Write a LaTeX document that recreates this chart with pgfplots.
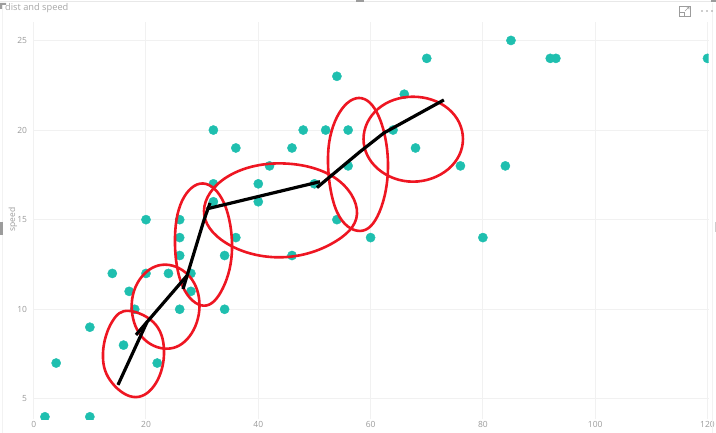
\documentclass[border=0pt]{standalone}
\usepackage{pgfplots}
\pgfplotsset{compat=1.18}
\usepackage{fontspec}
\setmainfont{Open Sans}
\definecolor{teal1}{HTML}{1FBFAF}
\definecolor{gridc}{HTML}{F1F1F1}
\definecolor{txt}{HTML}{9A9A9A}
\definecolor{redc}{HTML}{EE1622}
\definecolor{hand}{HTML}{9C9C9C}
\pgfplotstableread{
dist speed
2 4
10 4
4 7
22 7
16 8
10 9
18 10
26 10
34 10
17 11
28 11
14 12
20 12
24 12
28 12
26 13
34 13
46 13
26 14
36 14
60 14
80 14
20 15
26 15
54 15
32 16
40 16
32 17
40 17
50 17
42 18
56 18
76 18
84 18
36 19
46 19
68 19
32 20
48 20
52 20
56 20
64 20
66 22
54 23
70 24
92 24
93 24
120 24
85 25
}\carsdata
\begin{document}
\begin{tikzpicture}[x=1bp,y=1bp]
\path[use as bounding box] (0,0) rectangle (716,433);
\begin{axis}[
  at={(33.7bp,13.5bp)}, anchor=south west,
  scale only axis, width=674.9bp, height=397.5bp,
  xmin=0, xmax=120.2, ymin=3.85, ymax=26.03,
  separate axis lines,
  x axis line style={draw=none},
  y axis line style={draw=none},
  xtick={0,20,40,60,80,100,120},
  ytick={5,10,15,20,25},
  tick style={draw=none},
  grid=major,
  major grid style={gridc,line width=1bp},
  xticklabel style={text=txt,font=\fontsize{8.5}{10}\selectfont,yshift=2bp},
  yticklabel style={text=txt,font=\fontsize{8.5}{10}\selectfont,xshift=-3.2bp},
  /pgf/number format/assume math mode=true,
  xtick pos=bottom, ytick pos=left,
  clip=true,
  clip marker paths=true,
]
\addplot[only marks, mark=*, mark size=4.6bp, color=teal1, mark options={solid,draw=teal1,fill=teal1,line width=0.4bp}] table[x=dist,y=speed] {\carsdata};
% hand-drawn ellipses
\pgfplotsset{ell/.style={redc,line width=2.6bp,smooth cycle,tension=0.676,mark=none}}
\addplot[ell] coordinates {(16.97,9.91)(21.78,9.12)(23.2,7.45)(21.42,5.72)(17.68,5.11)(13.59,6.05)(12.34,7.56)(13.94,9.29)};
\addplot[ell] coordinates {(23.38,12.49)(27.84,11.8)(29.53,10.18)(27.75,8.49)(23.69,7.8)(19.2,8.49)(17.45,10.18)(19.2,11.8)};
\addplot[ell] coordinates {(30.15,17.02)(33.89,15.93)(35.32,13.42)(33.71,11.19)(30.33,10.2)(26.59,11.24)(25.16,13.7)(26.41,16.04)};
\addplot[ell] coordinates {(30.33,15.49)(34.42,17.38)(43.86,18.14)(53.57,17.35)(57.58,15.32)(52.95,13.64)(43.51,12.9)(34.25,13.7)};
\addplot[ell] coordinates {(57.93,21.79)(61.5,20.73)(63.1,18.05)(61.58,15.43)(58.11,14.37)(54.02,15.43)(52.41,18.33)(54.02,20.73)};
\addplot[ell] coordinates {(67.55,21.86)(73.87,21.18)(76.45,19.5)(73.87,17.83)(67.55,17.12)(61.32,17.83)(58.74,19.5)(61.32,21.18)};
% black segments
\pgfplotsset{seg/.style={black,line width=3.2bp,mark=none}}
\addplot[seg] coordinates {(15.01,5.78)(20.18,9.29)};
\addplot[seg] coordinates {(18.22,8.57)(20.18,9.29)(27.25,11.86)};
\addplot[seg] coordinates {(26.59,11.13)(27.3,11.86)(30.33,14.98)(31.4,15.93)};
\addplot[seg] coordinates {(30.81,15.6)(50.99,17.12)};
\addplot[seg] coordinates {(50.45,16.79)(58.11,18.79)(62.38,19.84)(73.05,21.68)};
\end{axis}
% visual frame
\fill[black!9] (0,430.5) rectangle (716,432);
\fill[black!5] (1.5,0) rectangle (2.5,430);
\fill[black!5] (711.5,0) rectangle (712.2,430);
\fill[hand] (356,430.5) rectangle (364,432.5);
\fill[hand] (711,430.5) rectangle (716,432.5);
\fill[hand] (0,430) rectangle (6,428) (0,428) rectangle (2,424);
\fill[hand] (0.5,198) rectangle (3,211);
\fill[hand!50] (714.5,201) rectangle (716,211);
\node[anchor=west,text=black!35,font=\fontsize{9.3}{10}\selectfont,inner sep=0] at (5,425.3) {dist and speed};
\node[rotate=90,text=txt,font=\fontsize{8.5}{9}\selectfont,inner sep=0] at (13,213.5) {speed};
% focus icon and menu
\draw[hand,line width=0.7bp] (679.5,417) rectangle (690.5,427);
\draw[hand,line width=0.7bp] (679.5,421) -- (684.5,421) -- (684.5,417);
\draw[hand,line width=0.6bp] (685,422) -- (689,426) (686.5,426) -- (689,426) -- (689,423.5);
\fill[hand] (702,422) circle (0.8) (707,422) circle (0.8) (712,422) circle (0.8);
\end{tikzpicture}
\end{document}
